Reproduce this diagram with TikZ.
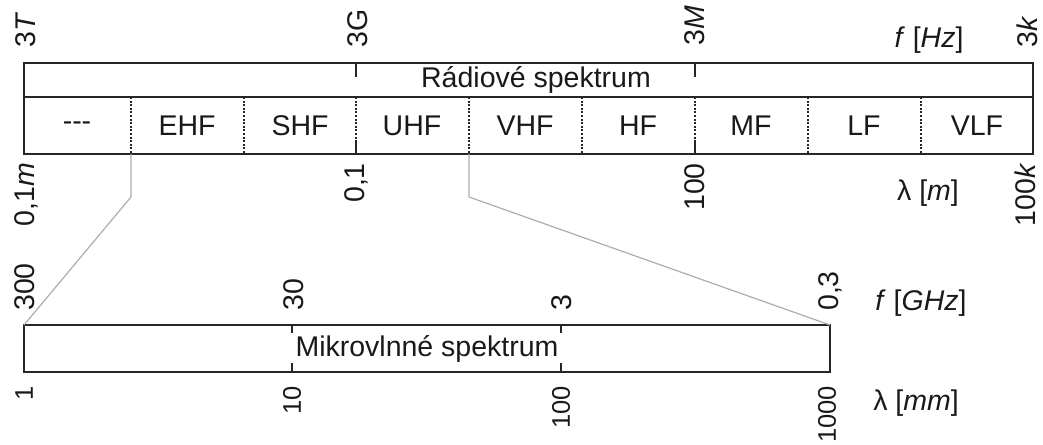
\documentclass[tikz,border=0pt]{standalone}
\usepackage{fontspec}
\setmainfont{Liberation Sans}
\begin{document}
\begin{tikzpicture}[x=1pt,y=-1pt,
  frame/.style={draw=black!85, line width=2pt},
  bandtxt/.style={font=\fontsize{28.5}{31}\selectfont, inner sep=0pt, text=black!90},
  axlbl/.style={font=\fontsize{28.5}{30}\selectfont, rotate=90, inner sep=0pt, text=black!90},
  toplbl/.style={axlbl, anchor=west},
  botlbl/.style={axlbl, anchor=east},
  smalllbl/.style={font=\fontsize{25.5}{27}\selectfont},
  unit/.style={font=\fontsize{28.5}{31}\selectfont, inner sep=0pt, text=black!90},
  divider/.style={draw=black!85, line width=1.3pt, dash pattern=on 2pt off 1.6pt},
  tickmark/.style={draw=black!85, line width=2pt},
  zoomline/.style={draw=black!32, line width=1.2pt}]
\useasboundingbox (0,0) rectangle (1043,444);

% ---- radio spectrum bar ----
\coordinate (R-tl) at (24,63);
\coordinate (R-br) at (1033,154);
\coordinate (R-ml) at (24,97);
\coordinate (R-mr) at (1033,97);
\draw[frame] (R-tl) rectangle (R-br);
\draw[frame] (R-ml) -- (R-mr);
\node[bandtxt] (radio) at (536,80) {Rádiové spektrum};

% band dividers
\foreach \x [count=\i] in {131,244,356,469,582,695,808,921}{
  \coordinate (D\i-t) at (\x,97);
  \coordinate (D\i-b) at (\x,154);
  \draw[divider] (D\i-t) -- (D\i-b);
}
% band names
\foreach \x/\name [count=\i] in {77/{-{}-{}-},187/EHF,300/SHF,412/UHF,525/VHF,638/HF,751/MF,864/LF,977/VLF}{
  \node[bandtxt] (band\i) at (\x,126) {\name};
}

% decade ticks on the radio bar
\foreach \x/\n in {356/G,695/M}{
  \coordinate (T\n-a) at (\x,63);
  \coordinate (T\n-b) at (\x,77);
  \coordinate (T\n-c) at (\x,140);
  \coordinate (T\n-d) at (\x,154);
  \draw[tickmark] (T\n-a) -- (T\n-b);
  \draw[tickmark] (T\n-c) -- (T\n-d);
}

% frequency labels
\node[toplbl] (f3T) at (26,48) {3\textit{T}};
\node[toplbl] (f3G) at (358,48) {3G};
\node[toplbl] (f3M) at (695,46) {3\textit{M}};
\node[toplbl] (f3k) at (1027,48) {3\textit{k}};
\node[unit] (fHz) at (929,40) {\textit{f} [\textit{Hz}]};

% wavelength labels
\node[botlbl] (l01m) at (26,163) {0,1\textit{m}};
\node[botlbl] (l01) at (356,163) {0,1};
\node[botlbl] (l100) at (695,163) {100};
\node[botlbl] (l100k) at (1025,163) {100\textit{k}};
\node[unit] (lm) at (928,193) {λ [\textit{m}]};

% ---- microwave spectrum bar ----
\coordinate (M-tl) at (24,325);
\coordinate (M-tr) at (830,325);
\coordinate (M-br) at (830,372);
\draw[frame] (M-tl) rectangle (M-br);
\node[bandtxt] (micro) at (427,349) {Mikrovlnné spektrum};

\foreach \x [count=\i] in {292,561}{
  \coordinate (m\i-a) at (\x,325);
  \coordinate (m\i-b) at (\x,333);
  \coordinate (m\i-c) at (\x,363);
  \coordinate (m\i-d) at (\x,372);
  \draw[tickmark] (m\i-a) -- (m\i-b);
  \draw[tickmark] (m\i-c) -- (m\i-d);
}

\node[toplbl] (g300) at (25,311) {300};
\node[toplbl] (g30) at (294,311) {30};
\node[toplbl] (g3) at (562,311) {3};
\node[toplbl] (g03) at (830,311) {0,3};
\node[unit] (fGHz) at (921,303) {\textit{f} [\textit{GHz}]};

\node[botlbl, smalllbl] (w1) at (24,386) {1};
\node[botlbl, smalllbl] (w10) at (292,386) {10};
\node[botlbl, smalllbl] (w100) at (561,386) {100};
\node[botlbl, smalllbl] (w1000) at (827,386) {1000};
\node[unit] (lmm) at (916,403) {λ [\textit{mm}]};

% ---- zoom connectors ----
\coordinate (zL-k) at (131,197);
\coordinate (zR-k) at (469,197);
\draw[zoomline] (D1-b) -- (zL-k) -- (M-tl);
\draw[zoomline] (D4-b) -- (zR-k) -- (M-tr);
\end{tikzpicture}
\end{document}
